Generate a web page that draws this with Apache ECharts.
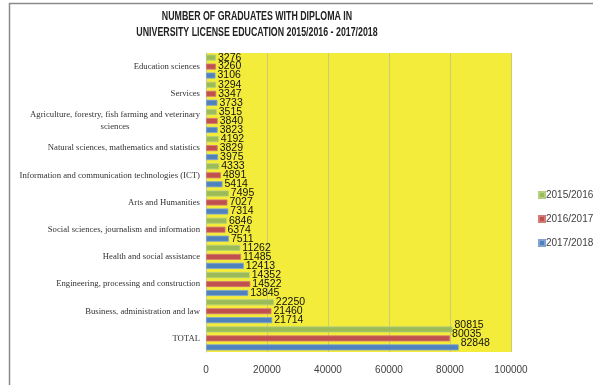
<!DOCTYPE html>
<html>
<head>
<meta charset="utf-8">
<script src="https://cdn.jsdelivr.net/npm/echarts@6/dist/echarts.min.js"></script>
<style>
html,body{margin:0;padding:0;background:#fff;}
#c{width:593px;height:385px;}
</style>
</head>
<body>
<div id="c"></div>
<script>
const categories = [
  'Education sciences',
  'Services',
  'Agriculture, forestry, fish farming and veterinary sciences',
  'Natural sciences, mathematics and statistics',
  'Information and communication technologies (ICT)',
  'Arts and Humanities',
  'Social sciences, journalism and information',
  'Health and social assistance',
  'Engineering, processing and construction',
  'Business, administration and law',
  'TOTAL'
];
const seriesNames = ['2015/2016', '2016/2017', '2017/2018'];
const values2015 = [3276, 3294, 3515, 4192, 4333, 7495, 6846, 11262, 14352, 22250, 80815];
const values2016 = [3260, 3347, 3840, 3829, 4891, 7027, 6374, 11485, 14522, 21460, 80035];
const values2017 = [3106, 3733, 3823, 3975, 5414, 7314, 7511, 12413, 13845, 21714, 82848];
const xTicks = [0, 20000, 40000, 60000, 80000, 100000];
const titleLines = ['NUMBER OF GRADUATES WITH DIPLOMA IN', 'UNIVERSITY LICENSE EDUCATION 2015/2016 - 2017/2018'];

const colors = ['#9BBB59', '#C0504D', '#4F81BD'];
const borders = ['#B5CF80', '#D47B78', '#7FA3D2'];
const sans = "'Liberation Sans', Arial, sans-serif";
const serif = "'Liberation Serif', serif";

const allValues = [values2015, values2016, values2017];
const totalIdx = categories.indexOf('TOTAL');
const chart = echarts.init(document.getElementById('c'));
chart.setOption({
  animation: false,
  color: colors,
  graphic: [
    { type: 'rect', shape: { x: 9.5, y: 3.5, width: 700, height: 500 }, style: { fill: 'none', stroke: '#8a8a8a', lineWidth: 1.5 }, silent: true },
    { type: 'text', x: 257, y: 10, scaleX: 0.705, style: { text: titleLines[0], fill: '#222', font: "bold 12.5px " + sans, textAlign: 'center' } },
    { type: 'text', x: 257, y: 26, scaleX: 0.705, style: { text: titleLines[1], fill: '#222', font: "bold 12.5px " + sans, textAlign: 'center' } }
  ],
  grid: { left: 206, right: 82, top: 53, bottom: 33, show: true, backgroundColor: '#F3EC3A', borderWidth: 0, containLabel: false, outerBoundsMode: 'none' },
  legend: {
    orient: 'vertical', left: 533, top: 185, itemWidth: 6, itemHeight: 6, itemGap: 14,
    icon: 'rect', data: seriesNames,
    textStyle: { fontFamily: sans, fontSize: 10, color: '#404040', padding: [0, 0, 0, -4] }
  },
  xAxis: {
    type: 'value', min: 0, max: 100000, interval: 20000,
    axisLine: { show: false }, axisTick: { show: false },
    splitLine: { show: true, lineStyle: { color: '#CFCB73', width: 1 } },
    axisLabel: { margin: 13, fontFamily: sans, fontSize: 10, color: '#404040',
      formatter: v => xTicks.includes(v) ? String(v) : '' }
  },
  yAxis: {
    type: 'category', data: categories, inverse: true,
    axisLine: { show: true, lineStyle: { color: '#C8C8A0' } },
    axisTick: { show: false },
    axisLabel: {
      margin: 6, fontFamily: serif, fontSize: 8.7, color: '#333',
      formatter: function (v) {
        if (v.indexOf('veterinary') >= 0) {
          return '{a|Agriculture, forestry, fish farming and veterinary}\n{b|sciences}';
        }
        return v;
      },
      rich: {
        a: { fontFamily: serif, fontSize: 8.7, color: '#333', lineHeight: 12 },
        b: { fontFamily: serif, fontSize: 8.7, color: '#333', lineHeight: 12, width: 162, align: 'center' }
      }
    }
  },
  series: seriesNames.map((name, i) => ({
    name: name, type: 'bar',
    data: allValues[i].map((v, k) => k === totalIdx ? { value: v, label: { offset: [0, -4] } } : v),
    barGap: '50%', barCategoryGap: '12%',
    itemStyle: { color: colors[i], borderColor: borders[i], borderWidth: 0.8 },
    label: { show: true, position: 'right', distance: 2, fontFamily: sans, fontSize: 10.5, color: '#111' }
  }))
});
</script>
</body>
</html>
